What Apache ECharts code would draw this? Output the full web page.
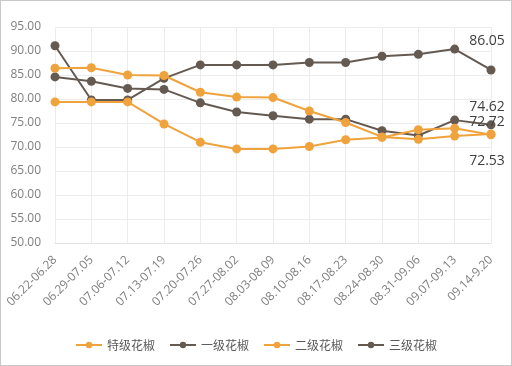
<!DOCTYPE html>
<html>
<head>
<meta charset="utf-8">
<script src="https://cdn.jsdelivr.net/npm/echarts@6/dist/echarts.min.js"></script>
<style>
html,body{margin:0;padding:0;background:#fff;}
#wrap{width:510px;height:364px;border:1px solid #c9c9c9;position:relative;}
#main{width:512px;height:366px;position:absolute;left:-1px;top:-1px;}
</style>
</head>
<body>
<div id="wrap"><div id="main"></div></div>
<script>
var categories = ['06.22-06.28','06.29-07.05','07.06-07.12','07.13-07.19','07.20-07.26','07.27-08.02','08.03-08.09','08.10-08.16','08.17-08.23','08.24-08.30','08.31-09.06','09.07-09.13','09.14-9.20'];
var seriesNames = ['特级花椒','一级花椒','二级花椒','三级花椒'];
var teji   = [86.4, 86.5, 85.0, 84.9, 81.4, 80.4, 80.3, 77.5, 75.1, 72.1, 71.6, 72.3, 72.72];
var yiji   = [91.1, 79.8, 79.8, 84.3, 87.1, 87.1, 87.1, 87.6, 87.6, 88.9, 89.3, 90.4, 86.05];
var erji   = [79.4, 79.4, 79.4, 74.8, 71.0, 69.6, 69.6, 70.1, 71.5, 72.0, 73.6, 73.9, 72.53];
var sanji  = [84.6, 83.7, 82.2, 82.0, 79.2, 77.3, 76.5, 75.8, 75.8, 73.4, 72.4, 75.6, 74.62];
var yTicks = {min: 50, max: 95, interval: 5};

var orange = '#F0A23C', dark = '#655A52';
function mk(name, vals, color, offY, z) {
  var data = vals.map(function (v, i) {
    if (i === vals.length - 1) {
      return {value: v, label: {show: true, position: 'inside', offset: [-4, offY],
        formatter: function (p) { return p.value.toFixed(2); },
        color: '#404040', fontSize: 14, fontFamily: 'Open Sans, sans-serif'}};
    }
    return v;
  });
  return {name: name, type: 'line', data: data, symbol: 'circle', symbolSize: 9,
    itemStyle: {color: color}, lineStyle: {color: color, width: 2}, z: z, animation: false};
}
var chart = echarts.init(document.getElementById('main'));
chart.setOption({
  animation: false,
  grid: {left: 55, right: 21, top: 27, bottom: 123},
  legend: {bottom: 10, left: 'center', itemWidth: 26, itemHeight: 8, itemGap: 14,
    textStyle: {color: '#595959', fontSize: 12, fontFamily: 'Noto Sans CJK SC'},
    data: seriesNames},
  xAxis: {type: 'category', data: categories, boundaryGap: false,
    axisLine: {lineStyle: {color: '#e3e3e3'}}, axisTick: {show: false},
    splitLine: {show: true, lineStyle: {color: '#ececec'}},
    axisLabel: {rotate: 45, color: '#7f7f7f', fontSize: 12, margin: 15, interval: 0,
      fontFamily: 'Open Sans, sans-serif'}},
  yAxis: {type: 'value', min: yTicks.min, max: yTicks.max, interval: yTicks.interval,
    axisLine: {show: false}, axisTick: {show: false},
    splitLine: {lineStyle: {color: '#ececec'}},
    axisLabel: {color: '#7f7f7f', fontSize: 12, margin: 14, fontFamily: 'Open Sans, sans-serif',
      formatter: function (v) { return v.toFixed(2); }}},
  series: [
    mk(seriesNames[0], teji, orange, -12, 3),
    mk(seriesNames[1], yiji, dark, -29, 2),
    mk(seriesNames[2], erji, orange, 26, 4),
    mk(seriesNames[3], sanji, dark, -18, 2)
  ]
});
</script>
</body>
</html>
